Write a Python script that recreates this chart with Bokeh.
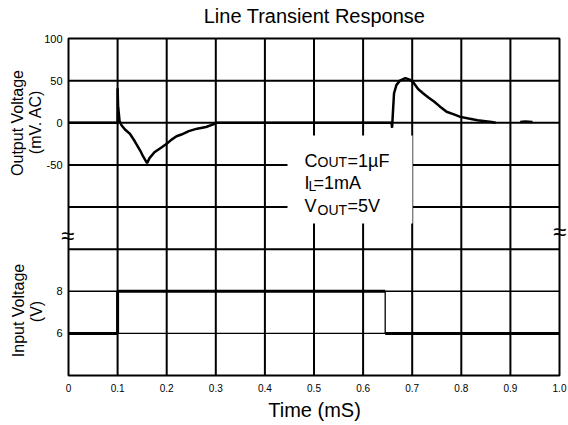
from math import pi
from bokeh.plotting import figure
from bokeh.models import Range1d, Label, BoxAnnotation
from bokeh.core.properties import value
from bokeh.embed import file_html
from bokeh.resources import INLINE

# ---------------- data ----------------
title_text = "Line Transient Response"
x_label = "Time (mS)"
out_label = ["Output Voltage", "(mV. AC)"]
in_label = ["Input Voltage", "(V)"]

x_ticks = [0.0, 0.1, 0.2, 0.3, 0.4, 0.5, 0.6, 0.7, 0.8, 0.9, 1.0]
x_tick_labels = ["0", "0.1", "0.2", "0.3", "0.4", "0.5", "0.6", "0.7", "0.8", "0.9", "1.0"]
out_ticks = [-50, 0, 50, 100]          # mV
out_tick_labels = ["-50", "0", "50", "100"]
out_grid = [-150, -100, -50, 0, 50]     # mV grid lines (upper panel)
in_ticks = [6, 8]                       # V
in_tick_labels = ["6", "8"]

# output voltage (mV, AC) vs time (ms)
t_out = [0.0, 0.1, 0.1, 0.101, 0.104, 0.108, 0.115, 0.125, 0.135, 0.146,
         0.152, 0.160, 0.165, 0.175, 0.19, 0.20, 0.21, 0.22, 0.23, 0.245,
         0.262, 0.28, 0.295, 0.30, 0.658, 0.659, 0.661, 0.663, 0.668, 0.675,
         0.686, 0.695, 0.702, 0.712, 0.722, 0.733, 0.745, 0.755, 0.77, 0.785,
         0.798, 0.815, 0.833, 0.862, 0.87]
v_out = [0, 0, 41, 20, 2, -3, -8, -13, -22, -33,
         -40, -48, -42, -35, -29, -25, -20, -16, -14, -10,
         -7, -5, -2, 0, 0, -6, 15, 35, 45, 50,
         53, 51, 48, 40, 35, 30, 25, 20, 13, 10,
         7, 5, 3, 1, 0]
t_tail = [0.92, 0.93, 0.945]
v_tail = [1, 1.5, 1]

# input voltage (V) vs time (ms)
t_in = [0.0, 0.1, 0.1, 0.645, 0.645, 1.0]
v_in = [6, 6, 8, 8, 6, 6]

# annotation
cond_main = ["C", "I", "V"]
cond_sub = ["OUT", "L", "OUT"]
cond_rest = ["=1\u00b5F", "=1mA", "=5V"]

# ---------------- layout helpers ----------------
W, H = 568, 425
FL, FR, FT, FB = 68, 559, 38, 375   # visual plot-area edges in pixels
T_LO, T_HI = 0.0, 1.0
MV_LO, MV_HI = -300, 100
VIN_LO, VIN_HI = 4, 20              # input scale sharing the same grid

def tx(px):
    return T_LO + (px - FL) / (FR - FL) * (T_HI - T_LO)

def my(py):
    return MV_HI - (py - FT) / (FB - FT) * (MV_HI - MV_LO)

def mv_to_vin(mv):
    return VIN_LO + (mv - MV_LO) / (MV_HI - MV_LO) * (VIN_HI - VIN_LO)

def vin_to_mv(v):
    return MV_LO + (v - VIN_LO) / (VIN_HI - VIN_LO) * (MV_HI - MV_LO)

FONT = "Liberation Sans"

p = figure(width=W, height=H, output_backend="svg", toolbar_location=None,
           x_range=Range1d(tx(0), tx(W)), y_range=Range1d(my(H), my(0)),
           min_border=0)
p.extra_y_ranges = {"vin": Range1d(mv_to_vin(my(H)), mv_to_vin(my(0)))}
p.axis.visible = False
p.grid.visible = False
p.outline_line_color = None
p.background_fill_color = "white"
p.border_fill_color = "white"

# grid lines (from tick arrays)
vx = x_ticks[1:-1]
p.segment(x0=vx, y0=[MV_LO] * len(vx), x1=vx, y1=[MV_HI] * len(vx),
          line_color="black", line_width=2)
p.segment(x0=[T_LO] * len(out_grid), y0=out_grid, x1=[T_HI] * len(out_grid), y1=out_grid,
          line_color="black", line_width=2)
p.segment(x0=[T_LO] * len(in_ticks), y0=in_ticks, x1=[T_HI] * len(in_ticks), y1=in_ticks,
          line_color="black", line_width=1.3, y_range_name="vin")

# traces
p.line(t_out, v_out, line_color="black", line_width=2.5)
p.line(t_tail, v_tail, line_color="black", line_width=2.5)
p.line(t_in[:4], v_in[:4], line_color="black", line_width=3, y_range_name="vin")
p.line(t_in[3:5], v_in[3:5], line_color="black", line_width=1.3, y_range_name="vin")
p.line(t_in[4:], v_in[4:], line_color="black", line_width=3, y_range_name="vin")

# plot border
p.add_layout(BoxAnnotation(left=T_LO, right=T_HI, bottom=MV_LO, top=MV_HI,
                           fill_alpha=0, line_color="black", line_width=2, line_alpha=1))

# tick labels
p.text(x=x_ticks, y=[my(387)] * len(x_ticks), text=x_tick_labels,
       text_font=value(FONT), text_font_size="10px", text_align="center",
       text_baseline="middle", text_color="black")
y_tick_pos = list(out_ticks) + [vin_to_mv(v) for v in in_ticks]
y_tick_lab = list(out_tick_labels) + list(in_tick_labels)
p.text(x=[tx(62)] * len(y_tick_pos), y=y_tick_pos, text=y_tick_lab,
       text_font=value(FONT), text_font_size="11px", text_align="right",
       text_baseline="middle", text_color="black")

# white box behind conditions
p.add_layout(BoxAnnotation(left=tx(287), right=tx(412), top=my(135), bottom=my(223),
                           fill_color="white", fill_alpha=1, line_color=None))

# conditions text
main_x = [304, 304, 304]
sub_x = [317, 308, 317]
rest_x = [347, 313, 347]
base_y = [160, 182, 205]
sub_dy = [1, 3, 4]
for i in range(3):
    p.add_layout(Label(x=tx(main_x[i]), y=my(base_y[i]), text=cond_main[i],
                       text_font=FONT, text_font_size="18px", text_align="left",
                       text_baseline="alphabetic", text_color="black"))
    p.add_layout(Label(x=tx(sub_x[i]), y=my(base_y[i] + sub_dy[i]), text=cond_sub[i],
                       text_font=FONT, text_font_size="14px", text_align="left",
                       text_baseline="alphabetic", text_color="black"))
    p.add_layout(Label(x=tx(rest_x[i]), y=my(base_y[i]), text=cond_rest[i],
                       text_font=FONT, text_font_size="18px", text_align="left",
                       text_baseline="alphabetic", text_color="black"))

# title and axis labels
def add_text(px, py, txt, size, angle=0.0):
    p.add_layout(Label(x=tx(px), y=my(py), text=txt, angle=angle, text_font=FONT,
                       text_font_size=size, text_align="center",
                       text_baseline="middle", text_color="black"))

add_text(314, 15.5, title_text, "20px")
add_text(314, 409, x_label, "20px")
add_text(17, 122.5, out_label[0], "16px", pi / 2)
add_text(35, 121.5, out_label[1], "16px", pi / 2)
add_text(18, 310, in_label[0], "16px", pi / 2)
add_text(36, 311, in_label[1], "16px", pi / 2)

# axis break marks
add_text(67, 235, "\u2248", "24px")
add_text(559, 231, "\u2248", "24px")

open("out.html", "w").write(file_html(p, INLINE))
